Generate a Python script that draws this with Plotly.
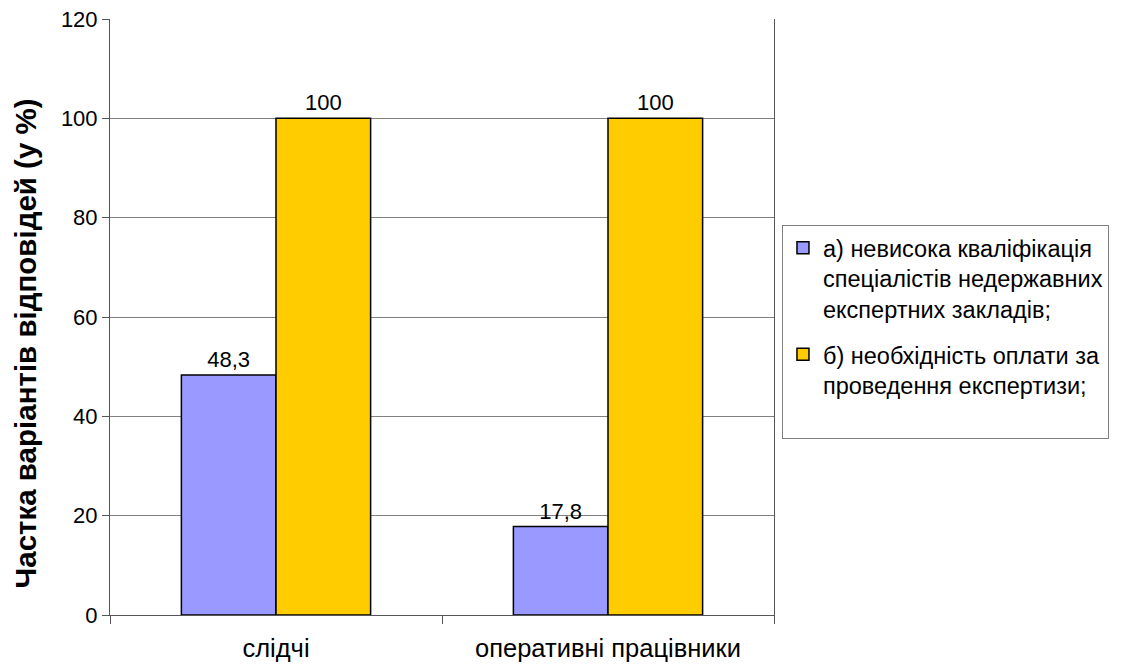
import plotly.graph_objects as go

categories = ["слідчі", "оперативні працівники"]
series_a = [48.3, 17.8]
series_b = [100, 100]
name_a = "а) невисока кваліфікація<br>спеціалістів недержавних<br>експертних закладів;"
name_b = "б) необхідність оплати за<br>проведення експертизи;<br> "
y_ticks = [0, 20, 40, 60, 80, 100, 120]
y_title = "<b>Частка варіантів відповідей (у %)</b>"

def fmt(v):
    return (f"{v:g}").replace(".", ",")

font = "Liberation Sans, Arial, sans-serif"

fig = go.Figure()
fig.add_trace(go.Bar(
    x=categories, y=series_a, name=name_a, legendgroup="a",
    marker=dict(color="#9999FF", line=dict(color="#000000", width=1.5)),
    text=[fmt(v) for v in series_a], textposition="outside",
    textfont=dict(size=22, color="#000", family=font), cliponaxis=False,
))
fig.add_trace(go.Bar(
    x=categories, y=series_b, name=name_b, legendgroup="b",
    marker=dict(color="#FFCC00", line=dict(color="#000000", width=1.5)),
    text=[fmt(v) for v in series_b], textposition="outside",
    textfont=dict(size=22, color="#000", family=font), cliponaxis=False,
))

fig.update_layout(
    width=1115, height=658,
    margin=dict(l=102, r=349, t=11, b=51, autoexpand=False),
    paper_bgcolor="white", plot_bgcolor="white",
    barmode="group", bargap=0.43, bargroupgap=0,
    font=dict(family=font, size=22, color="#000"),
    showlegend=True,
    legend=dict(
        x=1.012, y=0.475, xanchor="left", yanchor="middle",
        bordercolor="#808080", borderwidth=1,
        font=dict(size=23.5, family=font, color="#000"),
        tracegroupgap=12, valign="top",
    ),
    uniformtext=dict(minsize=22, mode="show"),
    annotations=[dict(
        text=y_title, textangle=-90, showarrow=False,
        xref="paper", yref="paper", x=-0.127, y=0.455,
        xanchor="center", yanchor="middle",
        font=dict(size=29.5, family=font, color="#000"),
    )],
)
fig.update_xaxes(
    showline=True, linecolor="#555555", linewidth=1,
    ticks="outside", tickson="boundaries", ticklen=8, tickcolor="#555555",
    tickfont=dict(size=25.5, family=font), showgrid=False,
    ticklabelstandoff=10, automargin=False,
)
fig.update_yaxes(
    range=[0, 120], tickvals=y_ticks, ticktext=[str(v) for v in y_ticks],
    showline=True, linecolor="#555555", linewidth=1, mirror=True,
    ticks="outside", ticklen=7, tickcolor="#555555",
    showgrid=True, gridcolor="#808080", gridwidth=1,
    tickfont=dict(size=22, family=font), ticklabeloverflow="allow",
    zeroline=False, automargin=False,
)

fig.write_html("out.html")
